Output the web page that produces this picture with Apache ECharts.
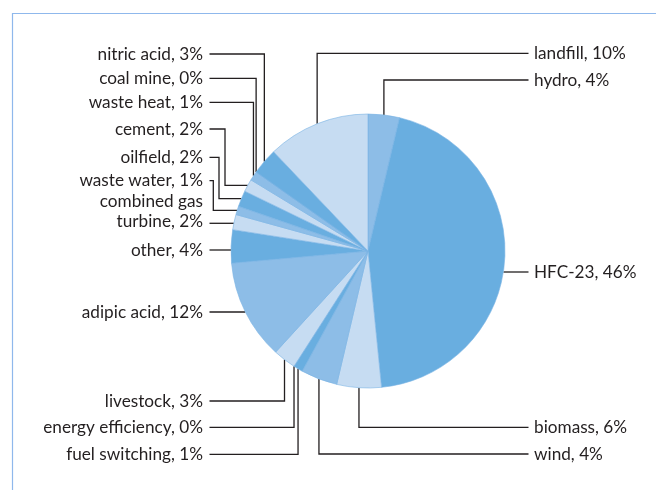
<!DOCTYPE html>
<html><head><meta charset="utf-8">
<script src="https://cdn.jsdelivr.net/npm/echarts@6/dist/echarts.min.js"></script>
<style>html,body{margin:0;padding:0;background:#fff}#c{width:656px;height:490px}</style>
</head><body><div id="c"></div>
<script>
// ---- data (clockwise from 12 o'clock) ----
const names = ['hydro','HFC-23','biomass','wind','fuel switching','energy efficiency','livestock','adipic acid','other','combined gas\nturbine','waste water','oilfield','cement','waste heat','coal mine','nitric acid','landfill'];
const shares = [3.7, 44.7, 5.25, 4.3, 1.1, 0, 2.7, 11.8, 3.9, 1.8, 1.0, 1.9, 1.5, 1.1, 0, 3.1, 12.1];
const printedPct = [4, 46, 6, 4, 1, 0, 3, 12, 4, 2, 1, 2, 2, 1, 0, 3, 10];

// ---- style / layout ----
const CX = 368, CY = 251, R = 137;
const shades = ['#8dbde7', '#69aee0', '#c6dcf2'];
const layout = [
  {side:'R', y:80,    route:'v'},
  {side:'R', y:272,   route:'h'},
  {side:'R', y:427.3, route:'v'},
  {side:'R', y:454,   route:'v'},
  {side:'L', y:454.3, route:'v'},
  {side:'L', y:427.3, route:'v'},
  {side:'L', y:401,   route:'v'},
  {side:'L', y:312,   route:'h'},
  {side:'L', y:250,   route:'h'},
  {side:'L', y:211.7, route:'h', lineY:223.3},
  {side:'L', y:180.7, route:'hvh', knee:213.3},
  {side:'L', y:157.3, route:'hvh', knee:219},
  {side:'L', y:129,   route:'hvh', knee:225},
  {side:'L', y:102.3, route:'v'},
  {side:'L', y:78.3,  route:'v'},
  {side:'L', y:54,    route:'v'},
  {side:'R', y:53.3,  route:'v'}
];

const total = shares.reduce((a, b) => a + b, 0);
let acc = 0;
const mids = shares.map(v => { const m = (acc + v / 2) / total * 2 * Math.PI; acc += v; return m; });
let k = 0;
const data = names.map((n, i) => {
  const c = shades[k % 3];
  if (shares[i] > 0) k++;
  return { name: n, value: shares[i], itemStyle: { color: c } };
});

const chart = echarts.init(document.getElementById('c'), null, { renderer: 'canvas' });
chart.setOption({
  animation: false,
  backgroundColor: '#ffffff',
  graphic: [{
    type: 'rect', silent: true,
    shape: { x: 12.5, y: 13.5, width: 700, height: 600 },
    style: { fill: 'none', stroke: '#8fb8ec', lineWidth: 1.2 }
  }],
  series: [{
    type: 'pie',
    center: [CX, CY],
    radius: R,
    startAngle: 90,
    clockwise: true,
    avoidLabelOverlap: false,
    emphasis: { disabled: true },
    itemStyle: { borderColor: '#7ab4e4', borderWidth: 0.6 },
    label: {
      show: true,
      position: 'outside',
      fontFamily: 'Lato',
      fontSize: 17.2,
      lineHeight: 20,
      color: '#231f20',
      formatter: p => names[p.dataIndex] + ', ' + printedPct[p.dataIndex] + '%'
    },
    labelLine: { show: true, smooth: false, lineStyle: { color: '#231f20', width: 1.3 } },
    labelLayout: function (params) {
      const i = params.dataIndex;
      const L = layout[i];
      const left = L.side === 'L';
      const tx = left ? 203 : 534;
      const ls = left ? 209.5 : 528.5;
      const m = mids[i];
      const p0 = [CX + R * Math.sin(m), CY - R * Math.cos(m)];
      let pts;
      if (L.route === 'v') {
        pts = [p0, [p0[0], L.y], [ls, L.y]];
      } else if (L.route === 'h') {
        const y = L.lineY || L.y;
        const dx = Math.sqrt(R * R - (y - CY) * (y - CY));
        pts = [[left ? CX - dx : CX + dx, y], [ls, y]];
      } else {
        pts = [p0, [L.knee, p0[1]], [L.knee, L.y], [ls, L.y]];
      }
      return { x: tx, y: L.y, align: left ? 'right' : 'left', verticalAlign: 'middle', labelLinePoints: pts, hideOverlap: false };
    },
    data: data
  }]
});
</script>
</body></html>
